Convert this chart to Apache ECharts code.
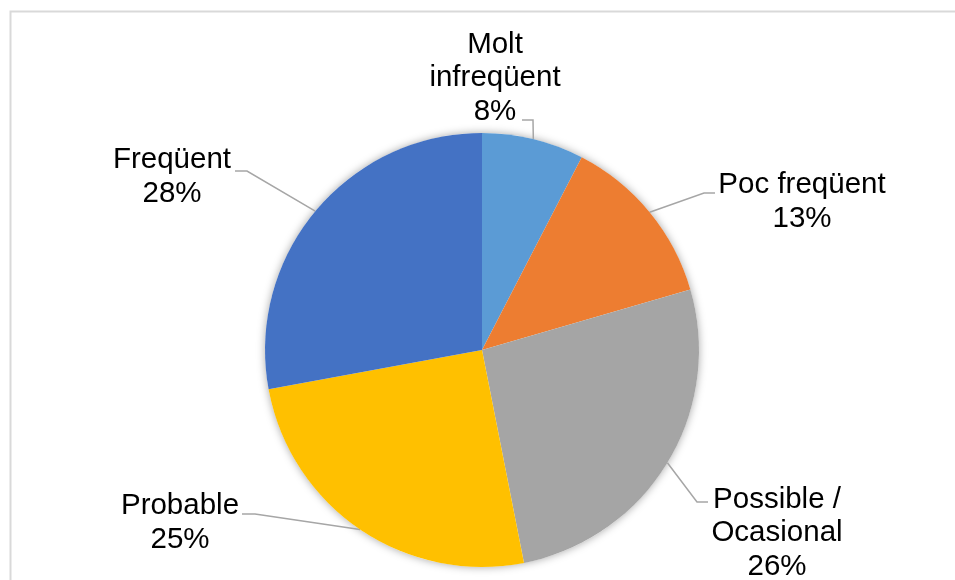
<!DOCTYPE html>
<html>
<head>
<meta charset="utf-8">
<script src="https://cdn.jsdelivr.net/npm/echarts@6/dist/echarts.min.js"></script>
<style>html,body{margin:0;padding:0;background:#fff;}#chart{width:955px;height:580px;}</style>
</head>
<body>
<div id="chart"></div>
<script>
const categories = ['Molt infreqüent', 'Poc freqüent', 'Possible / Ocasional', 'Probable', 'Freqüent'];
const labelNames = ['Molt\ninfreqüent', 'Poc freqüent', 'Possible /\nOcasional', 'Probable', 'Freqüent'];
const values = [7.6, 12.9, 26.4, 25.2, 27.9];
const colors = ['#5B9BD5', '#ED7D31', '#A5A5A5', '#FFC000', '#4472C4'];

// label placement (layout only): text centre, elbow point, line end
const labelPos = [
  { x: 495, y: 78, elbow: [533, 120], end: [522, 120] },
  { x: 802, y: 202, elbow: [704, 193], end: [715, 193] },
  { x: 777, y: 533, elbow: [697, 502], end: [708, 502] },
  { x: 180, y: 523, elbow: [255, 514], end: [242, 514] },
  { x: 172, y: 177, elbow: [247, 171], end: [235, 171] }
];

const chart = echarts.init(document.getElementById('chart'), null, { renderer: 'canvas' });
chart.setOption({
  animation: false,
  backgroundColor: '#fff',
  graphic: [{
    type: 'rect', left: 8, top: 9, silent: true,
    shape: { width: 970, height: 620 },
    style: { fill: 'none', stroke: '#d9d9d9', lineWidth: 2 }
  }],
  series: [{
    type: 'pie', silent: true, center: [482, 350], radius: 217,
    data: [{ value: 1, itemStyle: { color: '#fff', shadowBlur: 8, shadowColor: 'rgba(0,0,0,0.35)' } }],
    label: { show: false }, labelLine: { show: false }, z: 1
  }, {
    type: 'pie',
    center: [482, 350],
    radius: 217,
    startAngle: 90,
    clockwise: true,
    z: 2,
    data: categories.map((c, i) => ({ name: c, value: values[i], itemStyle: { color: colors[i] } })),
    label: {
      show: true,
      position: 'outside',
      fontFamily: 'Liberation Sans, Arial, sans-serif',
      fontSize: 29.5,
      lineHeight: 33.5,
      color: '#000',
      align: 'center',
      formatter: p => labelNames[p.dataIndex] + '\n' + Math.round(p.percent) + '%'
    },
    labelLine: { show: true, lineStyle: { color: '#a6a6a6', width: 1.5 }, length: 20, length2: 10 },
    labelLayout: function (params) {
      const lp = labelPos[params.dataIndex];
      const start = params.labelLinePoints ? params.labelLinePoints[0] : lp.elbow;
      return {
        x: lp.x, y: lp.y, align: 'center', verticalAlign: 'middle',
        labelLinePoints: [start, lp.elbow, lp.end]
      };
    }
  }]
});
</script>
</body>
</html>
